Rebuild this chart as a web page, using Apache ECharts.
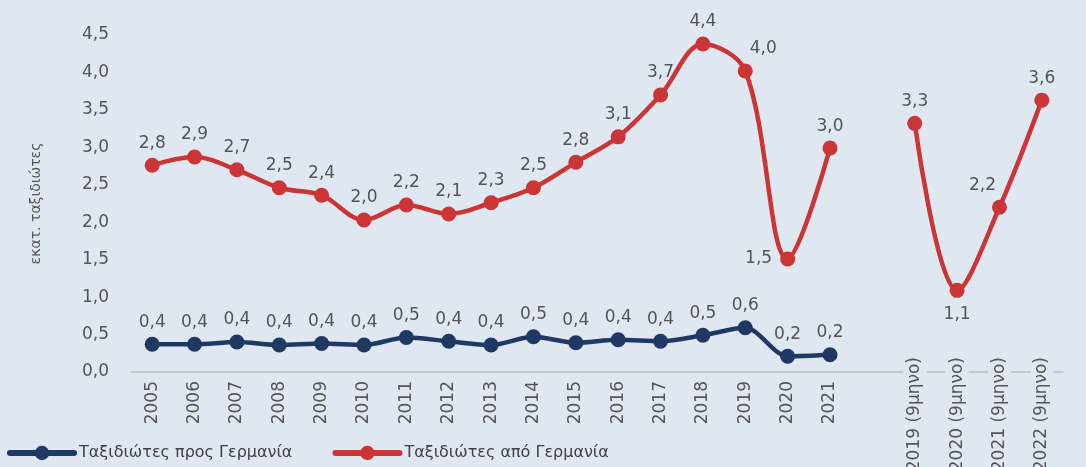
<!DOCTYPE html>
<html>
<head>
<meta charset="utf-8">
<script src="https://cdn.jsdelivr.net/npm/echarts@6/dist/echarts.min.js"></script>
<style>
html,body{margin:0;padding:0;background:#DFE7F0;}
#c{width:1086px;height:467px;}
</style>
</head>
<body>
<div id="c"></div>
<script>
var categories = ['2005','2006','2007','2008','2009','2010','2011','2012','2013','2014','2015','2016','2017','2018','2019','2020','2021','','2019 (9μηνο)','2020 (9μηνο)','2021 (9μηνο)','2022 (9μηνο)'];
var toGermany = [0.37,0.37,0.40,0.36,0.38,0.36,0.46,0.41,0.36,0.47,0.39,0.43,0.41,0.49,0.59,0.21,0.23,null,null,null,null,null];
var fromGermany = [2.76,2.87,2.70,2.46,2.36,2.03,2.23,2.11,2.26,2.46,2.80,3.14,3.70,4.38,4.02,1.51,2.99,null,3.32,1.09,2.20,3.63];
var yTicks = [0,0.5,1,1.5,2,2.5,3,3.5,4,4.5];
var seriesNames = ['Ταξιδιώτες προς Γερμανία','Ταξιδιώτες από Γερμανία'];
var yName = 'εκατ. ταξιδιώτες';

var FONT = 'DejaVu Sans';
var TXT = '#555555';
function fmt(v){ return v.toFixed(1).replace('.', ','); }
function isPartial(c){ return c.indexOf('(') >= 0; }

// label placement overrides (style only)
var redLabelOverrides = {
  14: {position:'top', offset:[18,0]},
  15: {position:'left', distance:8},
  19: {position:'bottom', distance:8},
  20: {position:'top', offset:[-17,0]}
};
function buildData(arr, overrides){
  return arr.map(function(v,i){
    if (v === null) return null;
    var o = {value: v};
    if (overrides && overrides[i]) o.label = overrides[i];
    return o;
  });
}

var chart = echarts.init(document.getElementById('c'));
chart.setOption({
  backgroundColor: '#DFE7F0',
  animation: false,
  textStyle: {fontFamily: FONT},
  grid: {left: 131, right: 23, top: 35, bottom: 95, containLabel: false, outerBoundsMode: 'none'},
  legend: {
    left: 2, bottom: 1,
    itemWidth: 64, itemHeight: 18, itemGap: 40,
    lineStyle: {width: 6, cap: 'round'},
    textStyle: {fontFamily: FONT, fontSize: 16, color: '#404040'},
    data: seriesNames
  },
  xAxis: [{
    type: 'category',
    data: categories,
    boundaryGap: true,
    axisLine: {lineStyle: {color: '#BFBFBF', width: 1.5}},
    axisTick: {show: false},
    axisLabel: {
      interval: 0, rotate: 90, margin: 9,
      fontFamily: FONT, fontSize: 17, color: TXT,
      formatter: function(v){ return isPartial(v) ? '' : v; }
    }
  },{
    type: 'category',
    data: categories,
    position: 'bottom',
    boundaryGap: true,
    axisLine: {show: false},
    axisTick: {show: false},
    axisLabel: {
      interval: 0, rotate: 90, margin: -17,
      fontFamily: FONT, fontSize: 17, color: TXT,
      backgroundColor: '#DFE7F0',
      padding: [3, 2, 3, 2],
      formatter: function(v){ return isPartial(v) ? v : ''; }
    }
  }],
  yAxis: {
    type: 'value',
    min: yTicks[0], max: yTicks[yTicks.length-1], interval: 0.5,
    name: yName,
    nameLocation: 'middle',
    nameGap: 88,
    nameTextStyle: {fontFamily: FONT, fontSize: 14, color: TXT},
    axisLine: {show: false},
    axisTick: {show: false},
    splitLine: {show: false},
    axisLabel: {
      margin: 22, fontFamily: FONT, fontSize: 17, color: TXT,
      formatter: function(v){ return fmt(v); }
    }
  },
  series: [{
    name: seriesNames[0],
    type: 'line',
    smooth: 0.3,
    data: buildData(toGermany),
    symbol: 'circle', symbolSize: 15,
    lineStyle: {width: 4.5, color: '#1F3864'},
    itemStyle: {color: '#1F3864'},
    label: {show: true, position: 'top', distance: 6, fontFamily: FONT, fontSize: 17, color: TXT,
      formatter: function(p){ return fmt(p.value); }}
  },{
    name: seriesNames[1],
    type: 'line',
    smooth: 0.35,
    connectNulls: false,
    data: buildData(fromGermany, redLabelOverrides),
    symbol: 'circle', symbolSize: 15,
    lineStyle: {width: 4.5, color: '#CC3536'},
    itemStyle: {color: '#CC3536'},
    label: {show: true, position: 'top', distance: 6, fontFamily: FONT, fontSize: 17, color: TXT,
      formatter: function(p){ return fmt(p.value); }}
  }]
});
</script>
</body>
</html>
